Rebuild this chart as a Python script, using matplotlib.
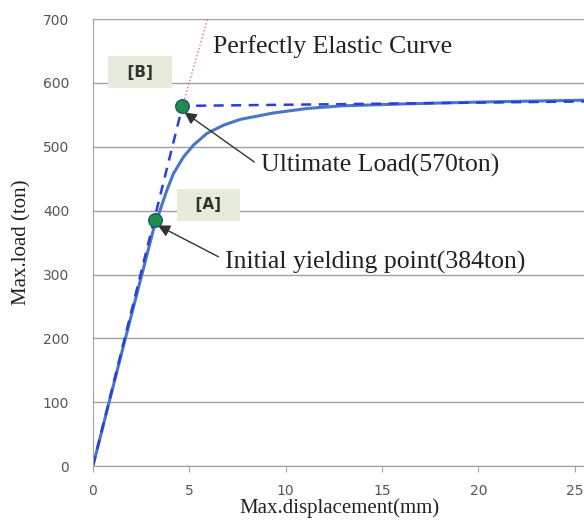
import numpy as np
import matplotlib.pyplot as plt

# load-displacement curve
disp = [0, 1.5, 3.14, 3.49, 3.84, 4.18, 4.7, 5.23, 5.92, 6.79, 7.66, 9.39,
        11.13, 12.86, 16, 20, 25.6]
load = [0, 178, 370, 401, 432, 458, 484, 503, 521, 534, 543, 553,
        560, 564, 567, 570, 573]

# bilinear (elastic-perfectly plastic) idealisation
bilin_x = [0, 4.65, 25.6]
bilin_y = [0, 564, 571]
# perfectly elastic extension
elastic_x = [4.65, 5.95]
elastic_y = [564, 700]

pt_A = (3.22, 385)
pt_B = (4.65, 564)

xticks = [0, 5, 10, 15, 20, 25]
yticks = [0, 100, 200, 300, 400, 500, 600, 700]

serif = ["Liberation Serif", "DejaVu Serif"]

fig = plt.figure(figsize=(5.84, 5.28), dpi=100)
ax = fig.add_axes([0.159, 0.117, 0.845, 0.847])

ax.plot(elastic_x, elastic_y, color="#e07070", linestyle=":", linewidth=1.0)
ax.plot(disp, load, color="#4a75c8", linewidth=2.2)
ax.plot(bilin_x, bilin_y, color="#2b3fd6", linestyle=(0, (4, 3)), linewidth=1.8)
ax.scatter([pt_A[0], pt_B[0]], [pt_A[1], pt_B[1]], s=95, color="#1e8c4c",
           edgecolor="#1a5a6a", linewidth=1.0, zorder=5)

ax.annotate("Ultimate Load(570ton)", xy=(pt_B[0] + 0.1, pt_B[1] - 10),
            xytext=(8.7, 471), fontsize=18.5, family=serif, color="#222222",
            va="center", ha="left",
            arrowprops=dict(arrowstyle="-|>", color="#333333", lw=1.0,
                            mutation_scale=18, shrinkA=3, shrinkB=0,
                            relpos=(0, 0.45)))
ax.annotate("Initial yielding point(384ton)", xy=(pt_A[0] + 0.15, pt_A[1] - 8),
            xytext=(6.85, 319), fontsize=18.5, family=serif, color="#222222",
            va="center", ha="left",
            arrowprops=dict(arrowstyle="-|>", color="#333333", lw=1.0,
                            mutation_scale=18, shrinkA=3, shrinkB=0,
                            relpos=(0, 0.6)))
ax.text(6.25, 657, "Perfectly Elastic Curve", fontsize=18.5, family=serif,
        color="#222222", va="center", ha="left")

box = dict(boxstyle="square,pad=0.55", facecolor="#e6ebdb", edgecolor="none")
ax.text(2.45, 617, "  [B]  ", fontsize=11, fontweight="bold", color="#333333",
        ha="center", va="center", bbox=box)
ax.text(6.0, 409, "  [A]  ", fontsize=11, fontweight="bold", color="#333333",
        ha="center", va="center", bbox=box)

ax.set_xlim(0, 25.6)
ax.set_ylim(0, 700)
ax.set_xticks(xticks)
ax.set_yticks(yticks)
ax.yaxis.grid(True, color="#a0a0a0", linewidth=1.0)
ax.set_axisbelow(True)
for s in ["top", "right"]:
    ax.spines[s].set_visible(False)
for s in ["left", "bottom"]:
    ax.spines[s].set_color("#a0a0a0")
ax.tick_params(axis="y", length=0, labelsize=10, labelcolor="#555555", pad=17)
ax.tick_params(axis="x", length=4, color="#a0a0a0", labelsize=10,
               labelcolor="#555555", pad=9)

ax.set_xlabel("Max.displacement(mm)", fontsize=15, family=serif,
              color="#222222", labelpad=0)
ax.set_ylabel("Max.load (ton)", fontsize=15, family=serif,
              color="#222222", labelpad=8)

fig.savefig("out.png", dpi=100)
